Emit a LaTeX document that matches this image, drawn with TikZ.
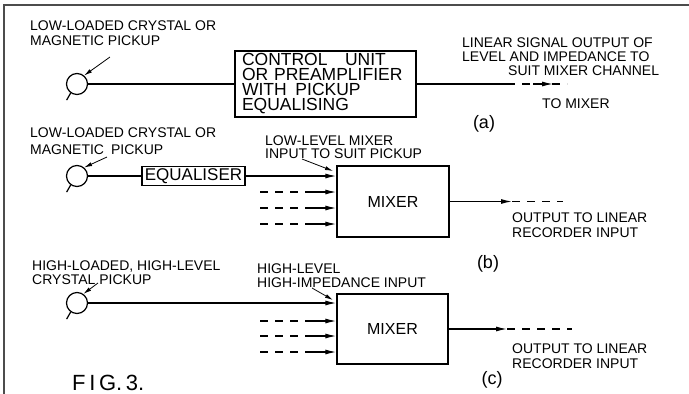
\documentclass[tikz,border=0pt]{standalone}
\usepackage{fontspec}
\setmainfont{Liberation Sans}
\usetikzlibrary{arrows.meta}

\begin{document}
\begin{tikzpicture}[x=1pt, y=-1pt,
	box/.style = {rectangle, draw=black, line width=1.4pt, inner sep=0pt},
	pick/.style = {circle, draw=black, line width=1.2pt, minimum size=21pt, inner sep=0pt},
	lbl/.style = {anchor=base west, inner sep=0pt, align=left, font=\fontsize{14}{15}\selectfont},
	tag/.style = {inner sep=0pt, font=\fontsize{18}{18}\selectfont},
	wire/.style = {line width=1.2pt},
	arr/.style = {line width=1.2pt, -{Latex[length=11pt, width=5pt]}},
	dsh/.style = {line width=1.2pt, dash pattern=on 8pt off 7pt},
	ldr/.style = {line width=0.8pt, -{Latex[length=8pt, width=4pt]}}
	]
	\useasboundingbox (0,0) rectangle (689,394);
	
	% === === === Frame === === ===
	\draw[line width=2.2pt, black!70] (4,394) -- (4,5) -- (689,5);
	
	% === === === Nodes === === ===
	\node[pick]	(a-pk)	at	(77,84)	{};
	\node[pick]	(b-pk)	at	(77,176)	{};
	\node[pick]	(c-pk)	at	(77,303)	{};
	
	\node[box, minimum width=181pt, minimum height=66pt, text width=167pt, align=left,
		font=\fontsize{17.5}{15}\selectfont] (a-ctrl) at (325.5,84)
		{CONTROL\quad UNIT\\OR PREAMPLIFIER\\WITH\enspace PICKUP\\EQUALISING};
	\node[box, minimum width=103pt, minimum height=19pt, font=\fontsize{17}{17}\selectfont]
		(b-eq) at (193.5,176) {EQUALISER};
	\node[box, minimum width=112pt, minimum height=71pt, font=\fontsize{16}{16}\selectfont]
		(b-mix) at (393,201.5) {MIXER};
	\node[box, minimum width=111pt, minimum height=70pt, font=\fontsize{16}{16}\selectfont]
		(c-mix) at (392.5,329) {MIXER};
	
	% === === === Labels (placed at the last baseline) === === ===
	\node[lbl]	(a-src)	at	(30,45)	{LOW-LOADED CRYSTAL OR\\MAGNETIC PICKUP};
	\node[lbl, font=\fontsize{14}{14}\selectfont]	(a-out)	at	(462,75)
		{LINEAR SIGNAL OUTPUT OF\\LEVEL AND IMPEDANCE TO\\\hspace*{46pt}SUIT MIXER CHANNEL};
	\node[lbl]	(a-to)	at	(542,108)	{TO MIXER};
	\node[tag]	(a-tag)	at	(484,124)	{(a)};
	
	\node[lbl]	(b-src)	at	(30,154)	{LOW-LOADED CRYSTAL OR\\[2pt]MAGNETIC\enspace PICKUP};
	\node[lbl]	(b-in)	at	(265,158)	{LOW-LEVEL MIXER\\[-2.5pt]INPUT TO SUIT PICKUP};
	\node[lbl]	(b-out)	at	(512,237)	{OUTPUT TO LINEAR\\RECORDER INPUT};
	\node[tag]	(b-tag)	at	(488,264)	{(b)};
	
	\node[lbl, font=\fontsize{14}{14}\selectfont]	(c-src)	at	(32,284)	{HIGH-LOADED, HIGH-LEVEL\\CRYSTAL PICKUP};
	\node[lbl, font=\fontsize{14}{14}\selectfont]	(c-in)	at	(257,287)	{HIGH-LEVEL\\HIGH-IMPEDANCE INPUT};
	\node[lbl]	(c-out)	at	(512,368)	{OUTPUT TO LINEAR\\RECORDER INPUT};
	\node[tag]	(c-tag)	at	(492,380)	{(c)};
	
	\node[lbl, font=\fontsize{22}{22}\selectfont]	(fig)	at	(72,390)	{F\,I\,G.\,3.};
	
	% === === === Coordinates === === ===
	\coordinate (a-k)	at (110,57);
	\coordinate (b-k)	at (107,157);
	\coordinate (c-k)	at (98,283);
	\coordinate (b-k2)	at (302,159);
	\coordinate (b-kt)	at (333,171);
	\coordinate (c-k2)	at (312,288);
	\coordinate (c-kt)	at (333,300);
	
	\coordinate (a-o1)	at (507,84);
	\coordinate (a-o2)	at (567,84);
	\coordinate (a-o3)	at (533,84);
	\coordinate (a-o4)	at (553,84);
	\coordinate (b-o1)	at (512,201.5);
	\coordinate (b-o2)	at (563,201.5);
	\coordinate (c-o1)	at (507,329);
	\coordinate (c-o2)	at (572,329);
	
	\coordinate (b-i1)	at (260,192);
	\coordinate (b-j1)	at (310,192);
	\coordinate (b-i2)	at (260,208);
	\coordinate (b-j2)	at (310,208);
	\coordinate (b-i3)	at (260,224);
	\coordinate (b-j3)	at (310,224);
	\coordinate (c-i1)	at (260,321);
	\coordinate (c-j1)	at (310,321);
	\coordinate (c-i2)	at (260,336);
	\coordinate (c-j2)	at (310,336);
	\coordinate (c-i3)	at (260,352);
	\coordinate (c-j3)	at (310,352);
	
	% === === === Lines === === ===
	\draw[wire] (a-pk.235) -- ++(-4,7);
	\draw[wire] (b-pk.235) -- ++(-4,7);
	\draw[wire] (c-pk.235) -- ++(-4,7);
	
	\draw[ldr] (a-k) to (a-pk.50);
	\draw[ldr] (b-k) to (b-pk.50);
	\draw[ldr] (c-k) to (c-pk.55);
	\draw[ldr] (b-k2) to (b-kt);
	\draw[ldr] (c-k2) to (c-kt);
	
	\draw[wire] (a-pk.east) to (a-ctrl.west);
	\draw[wire] (a-ctrl.east) to (a-o1);
	\draw[dsh] (a-o1) to (a-o2);
	\draw[arr] (a-o3) to (a-o4);
	
	\draw[wire] (b-pk.east) to (b-eq.west);
	\draw[arr] (b-eq.east) to (b-eq.east -| b-mix.west);
	\draw[dsh] (b-i1) to (b-j1);
	\draw[arr] (b-j1) to (b-j1 -| b-mix.west);
	\draw[dsh] (b-i2) to (b-j2);
	\draw[arr] (b-j2) to (b-j2 -| b-mix.west);
	\draw[dsh] (b-i3) to (b-j3);
	\draw[arr] (b-j3) to (b-j3 -| b-mix.west);
	\draw[arr] (b-mix.east) to (b-o1);
	\draw[dsh] (b-o1) to (b-o2);
	
	\draw[arr] (c-pk.east) to (c-pk.east -| c-mix.west);
	\draw[dsh] (c-i1) to (c-j1);
	\draw[arr] (c-j1) to (c-j1 -| c-mix.west);
	\draw[dsh] (c-i2) to (c-j2);
	\draw[arr] (c-j2) to (c-j2 -| c-mix.west);
	\draw[dsh] (c-i3) to (c-j3);
	\draw[arr] (c-j3) to (c-j3 -| c-mix.west);
	\draw[arr] (c-mix.east) to (c-o1);
	\draw[dsh] (c-o1) to (c-o2);
	
\end{tikzpicture}
\end{document}
